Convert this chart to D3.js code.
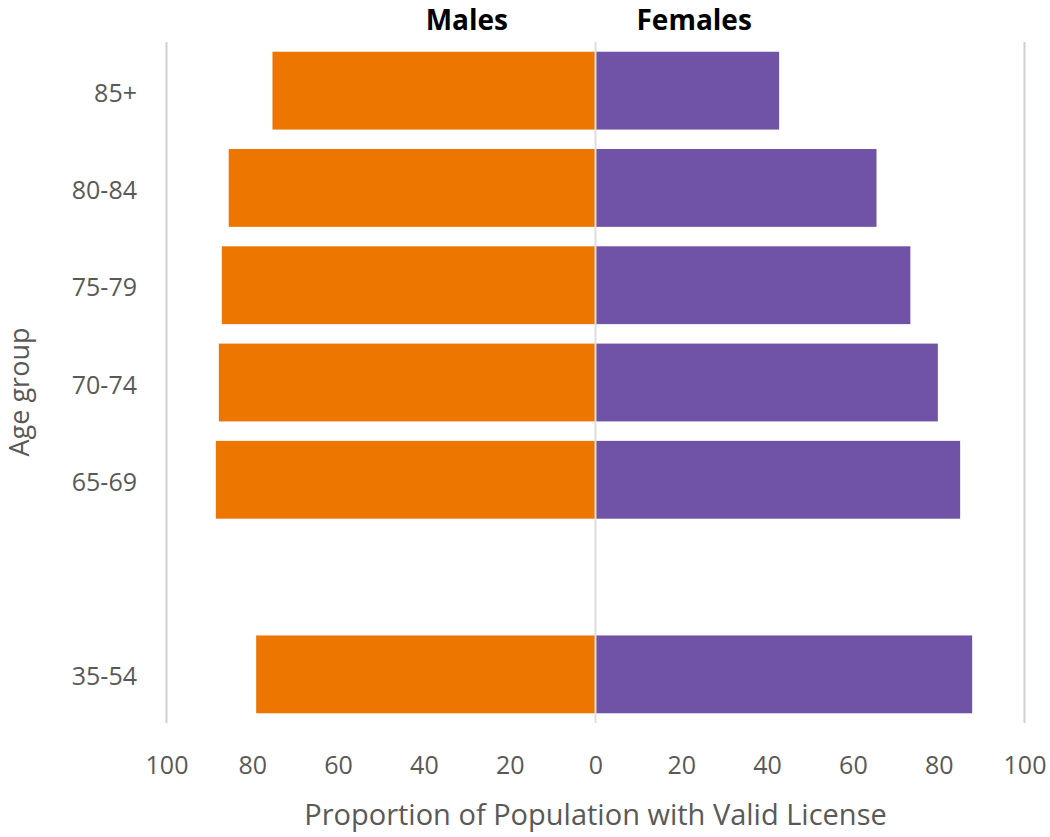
<!DOCTYPE html>
<html><head><meta charset="utf-8">
<script src="https://cdn.jsdelivr.net/npm/d3@7"></script>
<style>body{margin:0;background:#fff}svg{display:block}text{font-family:"Open Sans",sans-serif}</style>
</head><body><svg id="c" width="1050" height="837"></svg>
<script>
const categories = ["85+", "80-84", "75-79", "70-74", "65-69", "", "35-54"];
const males   = [75.3, 85.5, 87.1, 87.8, 88.5, null, 79.1];
const females = [42.8, 65.5, 73.4, 79.8, 85.0, null, 87.8];
const tickValues = [-100, -80, -60, -40, -20, 0, 20, 40, 60, 80, 100];
const seriesNames = ["Males", "Females"];

const svg = d3.select("#c");
const x = d3.scaleLinear().domain([-100, 100]).range([166.5, 1024.5]);
const y = d3.scaleBand().domain(categories).range([42, 723]).paddingInner(0.2).paddingOuter(0.1);
const grey = "#595959";

// vertical gridlines at ±100
svg.append("g").selectAll("line").data([-100, 100]).join("line")
  .attr("x1", d => x(d)).attr("x2", d => x(d)).attr("y1", 42).attr("y2", 723)
  .attr("stroke", "#d0d0d0").attr("stroke-width", 2);

const rows = categories.map((c, i) => ({c, m: males[i], f: females[i]})).filter(d => d.m != null);

svg.append("g").selectAll("rect").data(rows).join("rect")
  .attr("x", d => x(-d.m)).attr("width", d => x(0) - x(-d.m))
  .attr("y", d => y(d.c)).attr("height", y.bandwidth()).attr("fill", "#ED7600");
svg.append("g").selectAll("rect").data(rows).join("rect")
  .attr("x", x(0)).attr("width", d => x(d.f) - x(0))
  .attr("y", d => y(d.c)).attr("height", y.bandwidth()).attr("fill", "#7052A6");

// zero line
svg.append("line").attr("x1", x(0)).attr("x2", x(0)).attr("y1", 42).attr("y2", 723)
  .attr("stroke", "#dedede").attr("stroke-width", 2);

// x axis
const xAxis = d3.axisBottom(x).tickValues(tickValues).tickFormat(d => Math.abs(d)).tickSize(0).tickPadding(0);
const gx = svg.append("g").attr("transform", "translate(0,765)").call(xAxis);
gx.select(".domain").remove();
gx.selectAll("text").attr("fill", grey).attr("font-size", 25).attr("dy", "0.35em")
  .style("font-family", '"Open Sans",sans-serif');

// y axis
const yAxis = d3.axisLeft(y).tickSize(0).tickPadding(0);
const gy = svg.append("g").attr("transform", "translate(137,3)").call(yAxis);
gy.select(".domain").remove();
gy.selectAll("text").attr("fill", grey).attr("font-size", 25)
  .style("font-family", '"Open Sans",sans-serif');

// axis titles
svg.append("text").attr("x", x(0)).attr("y", 825).attr("text-anchor", "middle")
  .attr("fill", grey).attr("font-size", 29).text("Proportion of Population with Valid License");
svg.append("text").attr("transform", "translate(29,392) rotate(-90)").attr("text-anchor", "middle")
  .attr("fill", grey).attr("font-size", 27).text("Age group");

// series headers
svg.append("text").attr("x", x(-30)).attr("y", 30).attr("text-anchor", "middle")
  .attr("font-weight", "bold").attr("font-size", 28).attr("fill", "#000").text(seriesNames[0]);
svg.append("text").attr("x", x(23)).attr("y", 30).attr("text-anchor", "middle")
  .attr("font-weight", "bold").attr("font-size", 28).attr("fill", "#000").text(seriesNames[1]);
</script></body></html>
